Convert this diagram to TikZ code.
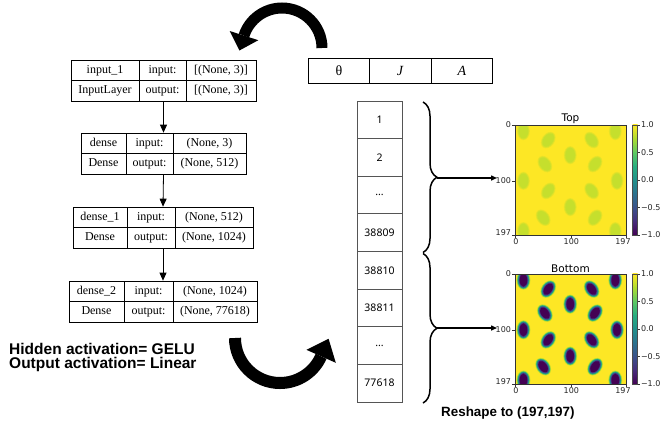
\documentclass[tikz,border=0pt]{standalone}
\usepackage{fontspec}
\setmainfont{Liberation Serif}
\newfontfamily\nsans{Noto Sans}
\newfontfamily\lsans{Liberation Sans}
\newfontfamily\dvs{DejaVu Sans}
\usetikzlibrary{arrows.meta,decorations.pathreplacing,calc}
\definecolor{vir0}{HTML}{440154}
\definecolor{vir1}{HTML}{472D7B}
\definecolor{vir2}{HTML}{3B528B}
\definecolor{vir3}{HTML}{2C728E}
\definecolor{vir4}{HTML}{21918C}
\definecolor{vir5}{HTML}{28AE80}
\definecolor{vir6}{HTML}{5EC962}
\definecolor{vir7}{HTML}{ADDC30}
\definecolor{vir8}{HTML}{FDE725}
\definecolor{colline}{HTML}{555555}
\tikzset{
  kframe/.style={draw=black, line width=0.7pt, inner sep=0pt},
  kline/.style={draw=black, line width=0.7pt},
  ktext/.style={font=\fontsize{12}{14}\selectfont, inner sep=0pt, text height=8.5pt, text depth=2.5pt},
  karrow/.style={draw=black, line width=0.8pt, -{Triangle[length=8pt,width=7pt]}},
  tcell/.style={draw=black, line width=0.7pt, minimum width=61.7pt, minimum height=25pt, inner sep=0pt, font=\fontsize{14}{16}\selectfont},
  ccell/.style={draw=colline, line width=0.8pt, minimum width=45pt, minimum height=37.625pt, inner sep=0pt, font=\nsans\fontsize{10.5}{12}\selectfont},
  bracestyle/.style={draw=black, line width=1.5pt, decorate, decoration={brace, amplitude=14pt, aspect=0.5}},
  barrow/.style={draw=black, line width=1.4pt, -{Triangle[length=6pt,width=5pt]}},
  bigarrow/.style={fill=black},
  axline/.style={draw=black!80, line width=0.6pt},
  tick/.style={draw=black!80, line width=0.5pt},
  ticklab/.style={font=\dvs\fontsize{8}{9}\selectfont, inner sep=0.8pt, text=black!85},
  ptitle/.style={font=\dvs\fontsize{10.5}{12}\selectfont, inner sep=0.5pt},
  bold/.style={font=\lsans\bfseries\fontsize{15.5}{14.5}\selectfont, inner sep=0pt},
}
% Keras layer box
\newcommand{\kbox}[8]{%
  \node[kframe, minimum width={#6-#2}, minimum height=41pt] (#1) at ({(#2+#6)/2},#3+20.5) {};
  \draw[kline] (#2,#3+20.5) -- (#6,#3+20.5) (#4,#3) -- (#4,#3+41) (#5,#3) -- (#5,#3+41);
  \node[ktext] (#1n) at ({(#2+#4)/2},#3+10.5) {#7};
  \node[ktext] (#1t) at ({(#2+#4)/2},#3+30.5) {#8};
  \node[ktext] (#1i) at ({(#4+#5)/2},#3+10.5) {input:};
  \node[ktext] (#1o) at ({(#4+#5)/2},#3+30.5) {output:};
}
\newcommand{\kshape}[6]{%
  \node[ktext] (#1a) at ({(#2+#3)/2},#4+10.5) {#5};
  \node[ktext] (#1b) at ({(#2+#3)/2},#4+30.5) {#6};
}
\newcommand{\ccellnode}[2]{%
  \node[ccell] (c#1) at (379.5,{101+37.625*(#1-0.5)}) {#2};}
% blobs
\newcommand{\bblob}[3]{%
  \begin{scope}[shift={(#1,#2)}, rotate=#3]
    \fill[vir8!50!vir7] (0,0) ellipse [x radius=7.0, y radius=9.6];
    \fill[vir7] (0,0) ellipse [x radius=6.6, y radius=9.2];
    \fill[vir6] (0,0) ellipse [x radius=6.2, y radius=8.8];
    \fill[vir5] (0,0) ellipse [x radius=5.8, y radius=8.4];
    \fill[vir4] (0,0) ellipse [x radius=5.4, y radius=8.0];
    \fill[vir3] (0,0) ellipse [x radius=5.0, y radius=7.6];
    \fill[vir2] (0,0) ellipse [x radius=4.6, y radius=7.2];
    \fill[vir1] (0,0) ellipse [x radius=4.2, y radius=6.8];
    \fill[vir0] (0,0) ellipse [x radius=3.8, y radius=6.4];
  \end{scope}}
\newcommand{\tblob}[3]{%
  \begin{scope}[shift={(#1,#2)}, rotate=#3]
    \fill[vir8!75!vir7] (0,0) ellipse [x radius=6.4, y radius=9.0];
    \fill[vir8!50!vir7] (0,0) ellipse [x radius=5.6, y radius=8.2];
    \fill[vir8!30!vir7] (0,0) ellipse [x radius=4.8, y radius=7.3];
  \end{scope}}
\newcommand{\hmap}[3]{%
  \begin{scope}
    \clip (515,#1) rectangle (626,#1+110);
    \fill[vir8] (515,#1) rectangle (626,#1+110);
    \foreach \bx/\by/\ba in {15/11/0, 178/11/0, 59/27/-35, 136/27/35, 98/54/0,
      53/70/35, 142/70/-35, 15/100/0, 181/100/0, 59/118/-35, 136/118/35,
      98/147/0, 50/166/35, 142/166/-35, 15/190/0, 178/190/0}{%
      \pgfmathsetmacro\px{515+\bx*0.5635}%
      \pgfmathsetmacro\py{#1+\by*0.5584}%
      #3{\px}{\py}{\ba}}
  \end{scope}
  \draw[axline] (515,#1) rectangle (626,#1+110);
  \node[ptitle, anchor=south] (ttl#2) at (570.5,#1-1) {#2};
  % y ticks
  \draw[tick] (512,#1) -- (515,#1) (512,#1+55.8) -- (515,#1+55.8) (512,#1+110) -- (515,#1+110);
  \node[ticklab, anchor=east] (#2y0) at (512,#1) {0};
  \node[ticklab, anchor=east] (#2y1) at (512,#1+55.8) {100};
  \node[ticklab, anchor=east] (#2y2) at (512,#1+108) {197};
  % x ticks
  \draw[tick] (515,#1+110) -- (515,#1+113) (571.35,#1+110) -- (571.35,#1+113) (626,#1+110) -- (626,#1+113);
  \node[ticklab, anchor=north] (#2x0) at (516,#1+112.5) {0};
  \node[ticklab, anchor=north] (#2x1) at (571.35,#1+112.5) {100};
  \node[ticklab, anchor=north] (#2x2) at (623,#1+112.5) {197};
  % colorbar
  \foreach \i/\ca/\cb in {0/vir8/vir7, 1/vir7/vir6, 2/vir6/vir5, 3/vir5/vir4,
     4/vir4/vir3, 5/vir3/vir2, 6/vir2/vir1, 7/vir1/vir0}{%
     \shade[top color=\ca, bottom color=\cb] (632.5,{#1+\i*13.75-0.2}) rectangle (637.5,{#1+(\i+1)*13.75+0.2});}
  \draw[draw=black!70, line width=0.4pt] (632.5,#1) rectangle (637.5,#1+110);
  \foreach \v/\lab [count=\k] in {1/1.0, 0.5/0.5, 0/0.0, -0.5/\char"2212 0.5, -1/\char"2212 1.0}{%
     \draw[tick] (637.5,{#1+(1-\v)*55}) -- (640,{#1+(1-\v)*55});
     \node[ticklab, anchor=west] (#2c\k) at (640,{#1+(1-\v)*55}) {\lab};}
}
\begin{document}
\begin{tikzpicture}[x=1pt, y=-1pt]
\useasboundingbox (0,0) rectangle (664,440);
\fill[white] (0,0) rectangle (664,440);

% ---- Keras model plot ----
\kbox{kin}{71}{60}{139}{186}{256}{input\_1}{InputLayer}
\kshape{kin}{186}{256}{60}{[(None, 3)]}{[(None, 3)]}
\kbox{kda}{81}{133}{126}{173}{246}{dense}{Dense}
\kshape{kda}{173}{246}{133}{(None, 3)}{(None, 512)}
\kbox{kdb}{73}{207}{127}{175}{253}{dense\_1}{Dense}
\kshape{kdb}{175}{253}{207}{(None, 512)}{(None, 1024)}
\kbox{kdc}{69}{281}{124}{173}{257}{dense\_2}{Dense}
\kshape{kdc}{173}{257}{281}{(None, 1024)}{(None, 77618)}
\draw[karrow] (kin.south) -- (kda.north);
\draw[karrow] (kda.south) -- (kdb.north);
\draw[karrow] (kdb.south) -- (kdc.north);

% ---- parameter row ----
\node[tcell] (t1) at (338.85,70.5) {θ};
\node[tcell] (t2) at (400.15,70.5) {\textit{J}};
\node[tcell] (t3) at (461.85,70.5) {\textit{A}};

% ---- output column ----
\ccellnode{1}{1}
\ccellnode{2}{2}
\ccellnode{3}{...}
\ccellnode{4}{38809}
\ccellnode{5}{38810}
\ccellnode{6}{38811}
\ccellnode{7}{...}
\ccellnode{8}{77618}

% ---- braces ----
\coordinate (bra) at (423,102);
\coordinate (brb) at (423,252.5);
\coordinate (brc) at (423,253.5);
\coordinate (brd) at (423,403);
\draw[bracestyle] (bra) -- (brb);
\draw[bracestyle] (brc) -- (brd);
\coordinate (bt1) at (437,178);
\coordinate (pt1) at (497,178);
\coordinate (bt2) at (437,328);
\coordinate (pt2) at (497,328);
\draw[barrow] (bt1) -- (pt1);
\draw[barrow] (bt2) -- (pt2);

% ---- heatmaps ----
\hmap{125}{Top}{\tblob}
\hmap{274}{Bottom}{\bblob}

% ---- big curved arrows ----
\draw[line width=11pt] (322,48) arc[start angle=0, end angle=-162, radius=40];
\fill[bigarrow] (229.7,31.0) -- (239.4,50.5) -- (258.3,40.2) -- cycle;
\draw[line width=12pt] (235,338) arc[start angle=180, end angle=24, radius=45];
\fill[bigarrow] (335.8,362.8) -- (328.6,338.8) -- (306.4,349.8) -- cycle;

% ---- texts ----
\node[bold, anchor=north west, align=left] (act) at (9,343) {Hidden activation= GELU\\Output activation= Linear};
\node[bold, anchor=west, font=\lsans\bfseries\fontsize{13.4}{14}\selectfont] (rs) at (441,413) {Reshape to (197,197)};
\end{tikzpicture}
\end{document}
